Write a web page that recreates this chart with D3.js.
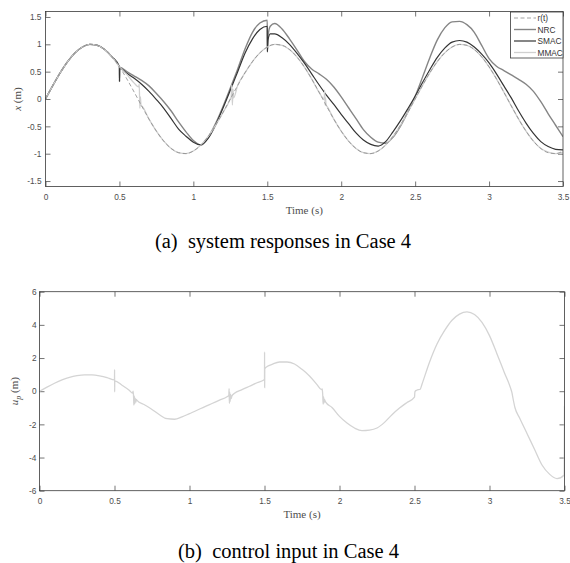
<!DOCTYPE html>
<html>
<head>
<meta charset="utf-8">
<script src="https://cdn.jsdelivr.net/npm/d3@7"></script>
<style>
  body { margin: 0; background: #fff; }
  svg { display: block; }
</style>
</head>
<body>
<div id="chart"></div>
<script>
'use strict';

// time base shared by all series (s)
const tGrid = [
  0, 0.05, 0.1, 0.15, 0.2, 0.25, 0.3, 0.35, 0.4, 0.45,
  0.5, 0.55, 0.6, 0.65, 0.7, 0.75, 0.8, 0.85, 0.9, 0.95,
  1.0, 1.05, 1.1, 1.15, 1.2, 1.25, 1.3, 1.35, 1.4, 1.45,
  1.5, 1.55, 1.6, 1.65, 1.7, 1.75, 1.8, 1.85, 1.9, 1.95,
  2.0, 2.05, 2.1, 2.15, 2.2, 2.25, 2.3, 2.35, 2.4, 2.45,
  2.5, 2.55, 2.6, 2.65, 2.7, 2.75, 2.8, 2.85, 2.9, 2.95,
  3.0, 3.05, 3.1, 3.15, 3.2, 3.25, 3.3, 3.35, 3.4, 3.45,
  3.5
]

// (a) system responses, x (m)
const refX = [
  0, 0.249, 0.482, 0.685, 0.844, 0.951, 0.998, 0.982, 0.905, 0.771,
  0.588, 0.368, 0.125, -0.125, -0.368, -0.588, -0.771, -0.905, -0.982, -0.998,
  -0.951, -0.844, -0.685, -0.482, -0.249, 0, 0.249, 0.482, 0.685, 0.844,
  0.951, 0.998, 0.982, 0.905, 0.771, 0.588, 0.368, 0.125, -0.125, -0.368,
  -0.588, -0.771, -0.905, -0.982, -0.998, -0.951, -0.844, -0.685, -0.482, -0.249,
  0, 0.249, 0.482, 0.685, 0.844, 0.951, 0.998, 0.982, 0.905, 0.771,
  0.588, 0.368, 0.125, -0.125, -0.368, -0.588, -0.771, -0.905, -0.982, -0.998,
  -0.951
]
const nrcX = [
  0, 0.249, 0.482, 0.685, 0.844, 0.951, 0.998, 0.982, 0.905, 0.771,
  0.588, 0.50, 0.42, 0.34, 0.24, 0.10, -0.05, -0.22, -0.42, -0.60,
  -0.76, -0.84, -0.70, -0.45, -0.14, 0.20, 0.55, 0.92, 1.22, 1.39,
  1.44, 1.38, 1.28, 1.10, 0.90, 0.69, 0.55, 0.46, 0.36, 0.22,
  0.04, -0.16, -0.36, -0.56, -0.70, -0.79, -0.81, -0.70, -0.50, -0.24,
  0.05, 0.40, 0.76, 1.08, 1.30, 1.41, 1.42, 1.36, 1.22, 0.98,
  0.74, 0.60, 0.52, 0.44, 0.36, 0.27, 0.14, -0.05, -0.27, -0.48,
  -0.69
]
const smacX = [
  0, 0.249, 0.482, 0.685, 0.844, 0.951, 0.998, 0.982, 0.905, 0.771,
  0.588, 0.47, 0.38, 0.27, 0.14, -0.01, -0.17, -0.36, -0.55, -0.68,
  -0.79, -0.84, -0.72, -0.48, -0.17, 0.16, 0.50, 0.84, 1.10, 1.27,
  1.33, 1.19, 1.12, 1.00, 0.84, 0.66, 0.46, 0.26, 0.07, -0.10,
  -0.28, -0.45, -0.62, -0.75, -0.83, -0.86, -0.78, -0.60, -0.40, -0.18,
  0.05, 0.30, 0.54, 0.76, 0.93, 1.04, 1.07, 1.04, 0.95, 0.82,
  0.66, 0.46, 0.24, 0.02, -0.22, -0.44, -0.63, -0.78, -0.87, -0.92,
  -0.93
]
const mmacX = [
  0, 0.249, 0.482, 0.685, 0.844, 0.951, 0.998, 0.982, 0.905, 0.771,
  0.588, 0.45, 0.29, -0.125, -0.368, -0.588, -0.771, -0.905, -0.982, -0.998,
  -0.951, -0.844, -0.685, -0.482, -0.249, 0, 0.249, 0.482, 0.685, 0.844,
  0.951, 0.998, 0.982, 0.905, 0.771, 0.588, 0.368, 0.125, -0.125, -0.368,
  -0.588, -0.771, -0.905, -0.982, -0.998, -0.951, -0.844, -0.685, -0.482, -0.249,
  0, 0.249, 0.482, 0.685, 0.844, 0.951, 0.998, 0.982, 0.905, 0.771,
  0.588, 0.368, 0.125, -0.125, -0.368, -0.588, -0.771, -0.905, -0.97, -1.0,
  -0.97
]
// switching spikes and chatter, [t, x]
const nrcEvents = [[0.5005, 0.32], [0.502, 0.58], [1.5005, 0.88], [1.505, 1.15], [1.52, 1.33]]
const smacEvents = [[0.5005, 0.32], [0.502, 0.56], [1.5005, 0.86], [1.505, 1.08], [1.52, 1.19]]
const mmacEvents = [
  [0.63, 0.22], [0.634, 0.27], [0.638, -0.17], [0.642, 0.04], [0.646, -0.12],
  [1.256, 0.04], [1.26, 0.26], [1.264, -0.11], [1.268, 0.18], [1.272, 0.02],
  [1.885, 0.0], [1.888, 0.16], [1.891, -0.11], [1.894, 0.02], [1.898, -0.12]
]

// (b) control input, u_p
const upU = [
  0, 0.25, 0.48, 0.68, 0.84, 0.94, 0.99, 0.98, 0.92, 0.82,
  0.68, 0.36, 0.04, -0.55, -0.82, -1.10, -1.42, -1.66, -1.69, -1.55,
  -1.35, -1.15, -0.94, -0.74, -0.54, -0.34, -0.13, 0.09, 0.30, 0.51,
  0.70, 1.62, 1.76, 1.76, 1.64, 1.32, 0.92, 0.40, -0.50, -0.98,
  -1.52, -1.92, -2.22, -2.38, -2.35, -2.22, -1.88, -1.42, -1.02, -0.68,
  -0.36, 0.42, 1.75, 2.85, 3.65, 4.28, 4.65, 4.78, 4.62, 4.15,
  3.35, 2.25, 1.10, -0.10, -1.60, -2.55, -3.50, -4.45, -5.00, -5.27,
  -0.90
]
const upEvents = [
  [0.5005, 1.30], [0.501, -0.04], [0.5018, 0.62],
  [0.62, -0.12], [0.624, 0.0], [0.627, -0.3], [0.629, -0.84], [0.632, -0.3],
  [0.635, -0.75], [0.638, -0.42], [0.642, -0.66], [0.646, -0.5],
  [1.262, -0.25], [1.264, 0.16], [1.266, -0.74], [1.268, -0.05], [1.271, -0.62],
  [1.274, -0.2], [1.278, -0.45], [1.283, -0.28],
  [1.5005, 2.37], [1.501, 0.22], [1.5018, 1.35], [1.52, 1.50],
  [1.88, 0.10], [1.885, 0.14], [1.888, -0.2], [1.891, -0.78], [1.894, -0.35],
  [1.897, -0.7], [1.902, -0.55], [1.908, -0.66],
  [2.503, -0.02], [2.515, 0.06], [2.538, 0.12],
  [3.14, 0.2], [3.155, -0.35], [3.17, -1.0],
  [3.498, -5.05]
]

const xTicks = [0, 0.5, 1, 1.5, 2, 2.5, 3, 3.5]
const xTicksA = [-1.5, -1, -0.5, 0, 0.5, 1, 1.5]
const uTicks = [-6, -4, -2, 0, 2, 4, 6]
const legendNames = ['r(t)', 'NRC', 'SMAC', 'MMAC']

// merge a grid series with its extra points
function series(values, events){
  const pts = tGrid.map((t, i) => [t, values[i]])
  return pts.concat(events || []).sort((a, b) => a[0] - b[0])
}

const width = 570
const height = 563
const sans = '"Liberation Sans", Arial, Helvetica, sans-serif'
const serif = '"Liberation Serif", "Times New Roman", Times, serif'
const axisColor = '#3a3a3a'
const textColor = '#4d4d4d'

const svg = d3.select('#chart')
  .append('svg')
  .attr('width', width)
  .attr('height', height)

// draw one Matlab-like boxed panel
function panel(opts){
  const x = d3.scaleLinear().domain([0, 3.5]).range(opts.xr)
  const y = d3.scaleLinear().domain(opts.yd).range(opts.yr)
  const g = svg.append('g')

  g.append('clipPath').attr('id', opts.id)
    .append('rect')
    .attr('x', opts.xr[0]).attr('y', opts.yr[1])
    .attr('width', opts.xr[1] - opts.xr[0])
    .attr('height', opts.yr[0] - opts.yr[1])

  const styleAxis = sel => {
    sel.select('.domain').remove()
    sel.selectAll('line').attr('stroke', axisColor).attr('stroke-width', 0.7)
    sel.selectAll('text')
      .attr('fill', textColor)
      .style('font-family', sans)
      .style('font-size', '8.3px')
  }
  const fmt = d => String(d)

  g.append('g')
    .attr('transform', `translate(0,${opts.yr[0]})`)
    .call(d3.axisBottom(x).tickValues(xTicks).tickFormat(fmt).tickSizeInner(-5).tickSizeOuter(0).tickPadding(7.5))
    .call(styleAxis)
  g.append('g')
    .attr('transform', `translate(0,${opts.yr[1]})`)
    .call(d3.axisTop(x).tickValues(xTicks).tickFormat('').tickSizeInner(-5).tickSizeOuter(0))
    .call(styleAxis)
  g.append('g')
    .attr('transform', `translate(${opts.xr[0]},0)`)
    .call(d3.axisLeft(y).tickValues(opts.yTicks).tickFormat(fmt).tickSizeInner(-5).tickSizeOuter(0).tickPadding(opts.yPad))
    .call(styleAxis)
  g.append('g')
    .attr('transform', `translate(${opts.xr[1]},0)`)
    .call(d3.axisRight(y).tickValues(opts.yTicks).tickFormat('').tickSizeInner(-5).tickSizeOuter(0))
    .call(styleAxis)

  const line = d3.line()
    .x(d => x(d[0]))
    .y(d => y(d[1]))
    .curve(d3.curveMonotoneX)

  const plot = g.append('g').attr('clip-path', `url(#${opts.id})`)
  opts.lines.forEach(s => {
    plot.append('path')
      .attr('d', line(s.data))
      .attr('fill', 'none')
      .attr('stroke', s.color)
      .attr('stroke-width', s.w)
      .attr('stroke-dasharray', s.dash || null)
  })

  // frame
  g.append('rect')
    .attr('x', opts.xr[0]).attr('y', opts.yr[1])
    .attr('width', opts.xr[1] - opts.xr[0])
    .attr('height', opts.yr[0] - opts.yr[1])
    .attr('fill', 'none')
    .attr('stroke', axisColor)
    .attr('stroke-width', 0.8)

  // x title
  g.append('text')
    .attr('x', (opts.xr[0] + opts.xr[1]) / 2)
    .attr('y', opts.yr[0] + 27.5)
    .attr('text-anchor', 'middle')
    .attr('fill', textColor)
    .style('font-family', serif)
    .style('font-size', '11px')
    .text('Time (s)')

  // y title
  const yt = g.append('text')
    .attr('transform', `translate(${opts.yLabelX},${(opts.yr[0] + opts.yr[1]) / 2}) rotate(-90)`)
    .attr('text-anchor', 'middle')
    .attr('fill', textColor)
    .style('font-family', serif)
    .style('font-size', '11px')
  opts.yTitle(yt)

  return {x, y, g}
}

const colors = {ref: '#8a8a8a', nrc: '#858585', smac: '#353535', mmac: '#d0d0d0'}

const panelA = panel({
  id: 'clipA',
  xr: [45.5, 563],
  yr: [186.5, 11.5],
  yd: [-1.6, 1.6],
  yTicks: xTicksA,
  yPad: 4,
  yLabelX: 21,
  yTitle: t => {
    t.append('tspan').style('font-style', 'italic').text('x')
    t.append('tspan').text(' (m)')
  },
  lines: [
    {data: series(nrcX, nrcEvents), color: colors.nrc, w: 1.4},
    {data: series(smacX, smacEvents), color: colors.smac, w: 1.2},
    {data: series(mmacX, mmacEvents), color: colors.mmac, w: 1.3},
    {data: series(refX), color: colors.ref, w: 0.8, dash: '4,2.5'}
  ]
})

const panelB = panel({
  id: 'clipB',
  xr: [39.5, 564.5],
  yr: [490.7, 291.7],
  yd: [-6, 6],
  yTicks: uTicks,
  yPad: 3,
  yLabelX: 18,
  yTitle: t => {
    t.append('tspan').style('font-style', 'italic').text('u')
    t.append('tspan').style('font-style', 'italic').style('font-size', '8px').attr('dy', 3).text('p')
    t.append('tspan').attr('dy', -3).text(' (m)')
  },
  lines: [
    {data: series(upU, upEvents), color: '#d4d4d4', w: 1.3}
  ]
})

// legend (northeast)
const lg = svg.append('g')
lg.append('rect')
  .attr('x', 510.5).attr('y', 12)
  .attr('width', 52.5).attr('height', 46)
  .attr('fill', '#fff')
  .attr('stroke', axisColor)
  .attr('stroke-width', 0.8)
const legendStyle = [
  {color: colors.ref, w: 0.8, dash: '4,2.5'},
  {color: colors.nrc, w: 1.4},
  {color: colors.smac, w: 1.2},
  {color: colors.mmac, w: 1.3}
]
legendNames.forEach((name, i) => {
  const yy = 18 + i * 11.5
  lg.append('line')
    .attr('x1', 514).attr('x2', 536)
    .attr('y1', yy).attr('y2', yy)
    .attr('stroke', legendStyle[i].color)
    .attr('stroke-width', legendStyle[i].w)
    .attr('stroke-dasharray', legendStyle[i].dash || null)
  lg.append('text')
    .attr('x', 537.5).attr('y', yy + 3)
    .attr('fill', '#333')
    .style('font-family', sans)
    .style('font-size', '8.3px')
    .text(name)
})

// captions
svg.append('text')
  .attr('x', 283).attr('y', 248)
  .attr('text-anchor', 'middle')
  .style('font-family', serif)
  .style('font-size', '20.5px')
  .style('white-space', 'pre')
  .attr('fill', '#000')
  .text('(a)  system responses in Case 4')
svg.append('text')
  .attr('x', 288.5).attr('y', 558)
  .attr('text-anchor', 'middle')
  .style('font-family', serif)
  .style('font-size', '20.5px')
  .style('white-space', 'pre')
  .attr('fill', '#000')
  .text('(b)  control input in Case 4')
</script>
</body>
</html>
